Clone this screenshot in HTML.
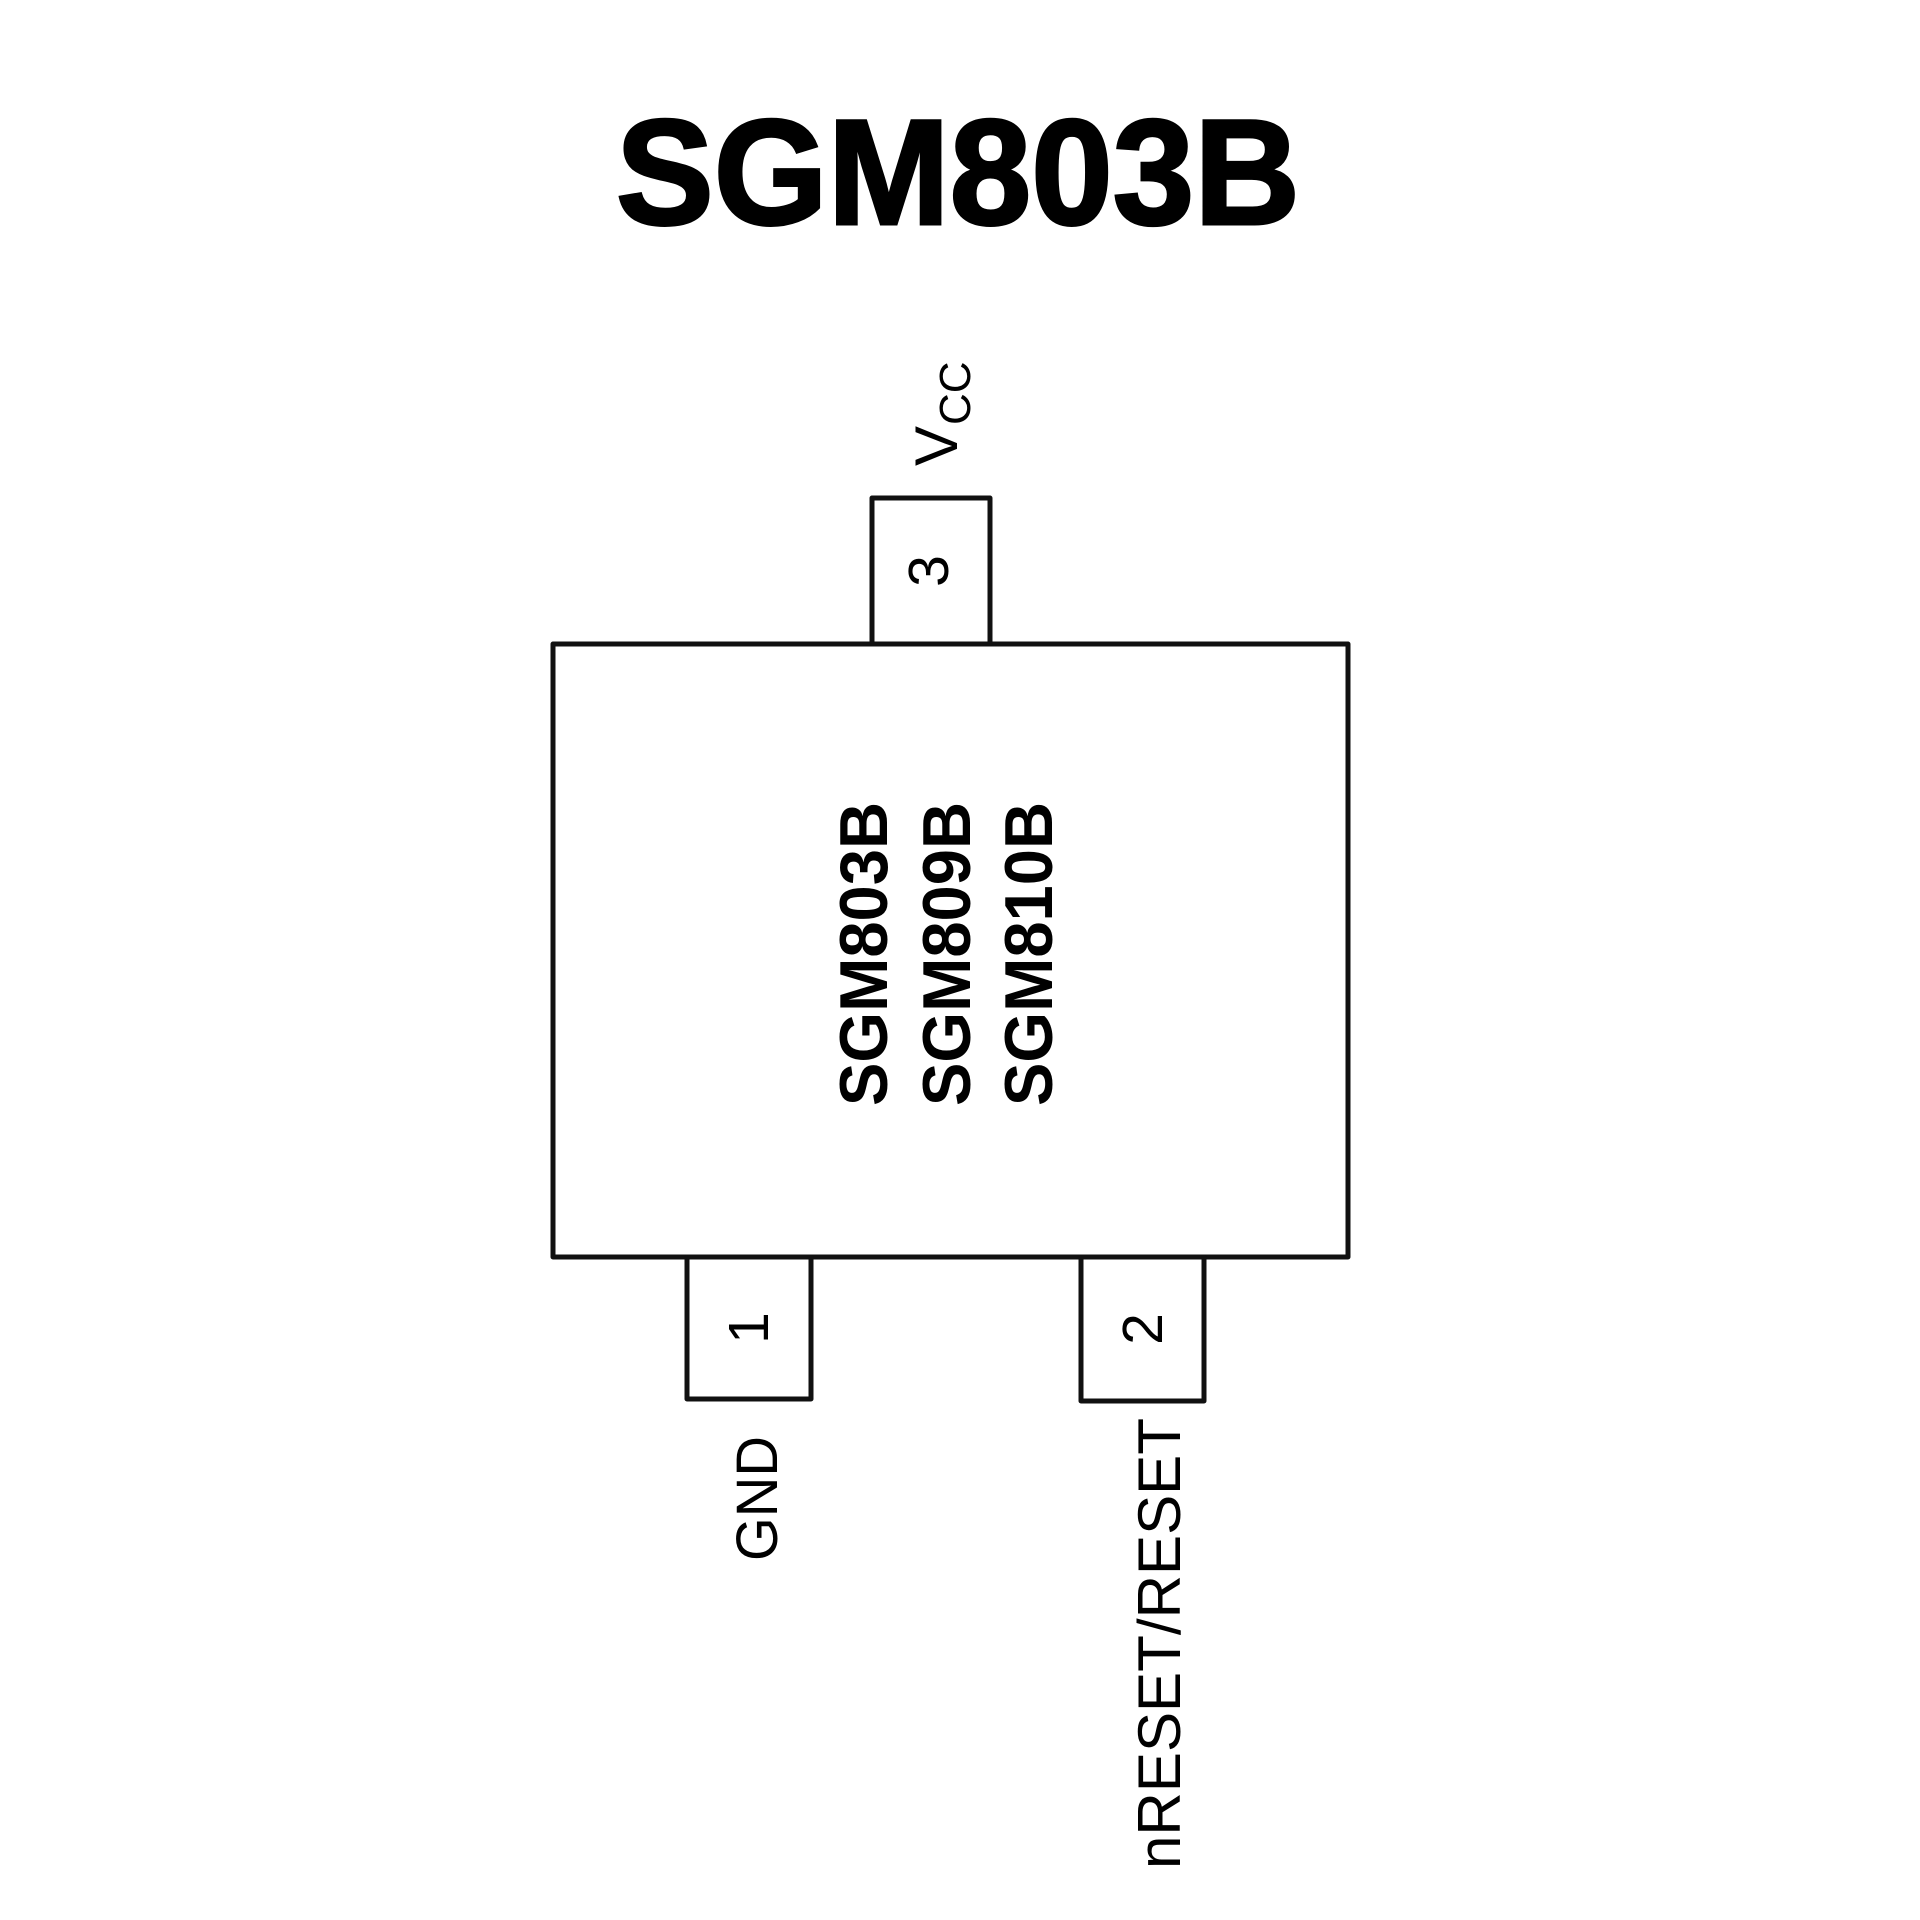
<!DOCTYPE html>
<html><head><meta charset="utf-8"><style>
html,body{margin:0;padding:0;background:#fff;}
svg{display:block;}
</style></head><body>
<svg width="1920" height="1920" viewBox="0 0 1920 1920" xmlns="http://www.w3.org/2000/svg" font-family="Liberation Sans, Arial, sans-serif">
<text x="958" y="224" text-anchor="middle" font-size="150" font-weight="bold" textLength="684" lengthAdjust="spacingAndGlyphs" fill="#000" stroke="#000" stroke-width="3">SGM803B</text>
<g fill="none" stroke="#111" stroke-width="5" stroke-linejoin="round">
<rect x="553" y="644" width="795" height="613"/>
<rect x="872" y="498" width="118" height="146"/>
<rect x="687" y="1257" width="124" height="142"/>
<rect x="1081" y="1257" width="123" height="144"/>
</g>
<g fill="#000">
<text transform="translate(957,466) rotate(-90)" font-size="60">V</text>
<text transform="translate(970,425) rotate(-90)" font-size="44">CC</text>
<text transform="translate(948,571) rotate(-90)" font-size="57" text-anchor="middle">3</text>
<text transform="translate(768,1328) rotate(-90)" font-size="57" text-anchor="middle">1</text>
<text transform="translate(1162,1329) rotate(-90)" font-size="57" text-anchor="middle">2</text>
<text transform="translate(777,1561) rotate(-90)" font-size="58" textLength="125" lengthAdjust="spacingAndGlyphs">GND</text>
<text transform="translate(1180,1869) rotate(-90)" font-size="60" textLength="451" lengthAdjust="spacingAndGlyphs">nRESET/RESET</text>
<g font-weight="bold" font-size="68">
<text transform="translate(887,1106) rotate(-90)" textLength="304" lengthAdjust="spacingAndGlyphs">SGM803B</text>
<text transform="translate(970,1106) rotate(-90)" textLength="304" lengthAdjust="spacingAndGlyphs">SGM809B</text>
<text transform="translate(1052,1106) rotate(-90)" textLength="304" lengthAdjust="spacingAndGlyphs">SGM810B</text>
</g>
</g>
</svg>
</body></html>
